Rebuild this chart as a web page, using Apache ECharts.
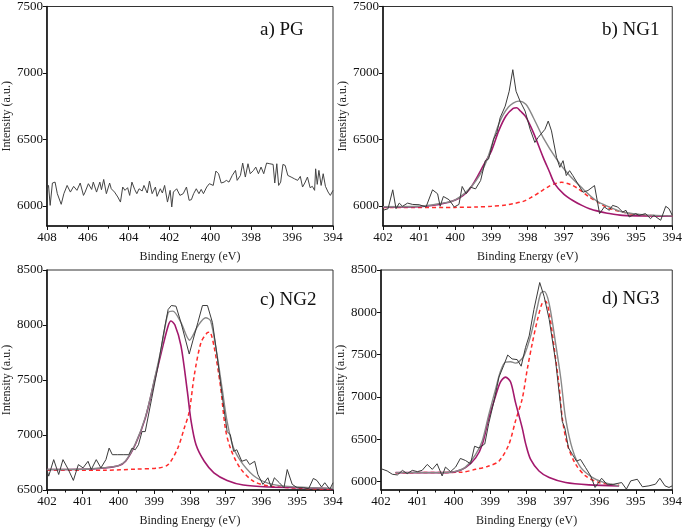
<!DOCTYPE html>
<html>
<head>
<meta charset="utf-8">
<script src="https://cdn.jsdelivr.net/npm/echarts@6/dist/echarts.min.js"></script>
<style>
html,body{margin:0;padding:0;background:#fff;}
#chart{width:685px;height:528px;}
</style>
</head>
<body>
<div id="chart"></div>
<script>
// panel titles
var titles = ['a) PG', 'b) NG1', 'c) NG2', 'd) NG3'];

// a) PG raw spectrum [eV, counts]
var pgRaw = [[408,6118],[407.92,6155],[407.84,6005],[407.73,6173],[407.6,6180],[407.49,6093],[407.41,6098],[407.3,6013],[407.17,6093],[407.01,6155],[406.85,6105],[406.69,6148],[406.53,6118],[406.37,6173],[406.21,6080],[406.13,6105],[405.97,6168],[405.81,6125],[405.73,6180],[405.57,6105],[405.41,6180],[405.33,6123],[405.22,6200],[405.09,6093],[404.93,6173],[404.85,6130],[404.69,6105],[404.53,6068],[404.4,6030],[404.29,6143],[404.18,6118],[404.05,6138],[403.95,6080],[403.84,6180],[403.7,6123],[403.6,6093],[403.49,6130],[403.34,6113],[403.25,6155],[403.09,6098],[402.98,6188],[402.85,6093],[402.69,6143],[402.61,6073],[402.45,6130],[402.35,6098],[402.24,6155],[402.1,6030],[401.97,6118],[401.89,5993],[401.81,6105],[401.65,6130],[401.49,6080],[401.33,6093],[401.17,6143],[401.04,6043],[400.93,6048],[400.82,6093],[400.69,6130],[400.56,6093],[400.45,6125],[400.34,6093],[400.18,6143],[400.05,6168],[399.97,6180],[399.86,6155],[399.73,6263],[399.6,6243],[399.47,6173],[399.33,6180],[399.22,6193],[399.09,6180],[398.93,6230],[398.77,6268],[398.69,6193],[398.53,6230],[398.42,6323],[398.29,6218],[398.16,6318],[398.05,6243],[397.89,6268],[397.78,6293],[397.65,6243],[397.52,6293],[397.39,6243],[397.25,6323],[397.09,6318],[396.93,6313],[396.85,6173],[396.75,6318],[396.66,6155],[396.56,6180],[396.45,6313],[396.34,6305],[396.21,6230],[396.05,6218],[395.89,6205],[395.73,6193],[395.6,6223],[395.49,6143],[395.38,6173],[395.25,6218],[395.12,6138],[395.01,6148],[394.9,6118],[394.85,6280],[394.77,6163],[394.69,6268],[394.58,6155],[394.48,6243],[394.37,6148],[394.24,6105],[394.13,6080],[394,6118]];

// b) NG1
var ng1Raw = [[402,5968],[401.86,5980],[401.73,6122],[401.64,5980],[401.55,6022],[401.46,5998],[401.32,6022],[401.18,6012],[401,6010],[400.81,5993],[400.63,6122],[400.49,6092],[400.42,5998],[400.33,6072],[400.17,6047],[400.03,5993],[399.9,6012],[399.81,6147],[399.7,6092],[399.58,6142],[399.44,6129],[399.3,6192],[399.17,6341],[399.08,6353],[398.94,6503],[398.85,6552],[398.76,6664],[398.62,6751],[398.51,6863],[398.41,7025],[398.32,6863],[398.21,6789],[398.07,6714],[397.93,6577],[397.8,6478],[397.71,6515],[397.52,6577],[397.43,6639],[397.34,6565],[397.2,6366],[397.11,6291],[397.02,6341],[396.93,6229],[396.84,6266],[396.75,6229],[396.61,6167],[396.47,6104],[396.33,6117],[396.15,6154],[396.01,5943],[395.88,5993],[395.74,5968],[395.65,6005],[395.51,5993],[395.37,5955],[395.28,5968],[395.19,5918],[395.01,5943],[394.92,5930],[394.74,5943],[394.6,5905],[394.51,5930],[394.32,5893],[394.18,5998],[394.09,5980],[394,5930]];
var ng1Env = [[402,5995],[401,5998],[400.5,6015],[400,6047],[399.53,6154],[399.17,6316],[398.8,6615],[398.53,6744],[398.25,6789],[398.05,6765],[397.84,6664],[397.57,6515],[397.2,6353],[396.84,6229],[396.47,6129],[396.11,6042],[395.74,5993],[395.38,5955],[394.9,5937],[394.46,5930],[394,5926]];
var ng1Pk1 = [[402,5992],[401,5995],[400.5,6010],[400,6045],[399.6,6129],[399.2,6316],[399,6415],[398.8,6565],[398.6,6677],[398.4,6734],[398.3,6739],[398.2,6714],[398.05,6670],[397.84,6552],[397.57,6366],[397.4,6260],[397.25,6167],[397,6090],[396.75,6042],[396.5,6005],[396.29,5980],[396,5958],[395.83,5948],[395.38,5930],[394.5,5925],[394,5924]];
var ng1Pk2 = [[402,5990],[400,5990],[399.4,5993],[399,5998],[398.6,6008],[398.4,6018],[398.12,6035],[397.9,6065],[397.66,6105],[397.4,6150],[397.2,6172],[397.06,6179],[396.8,6160],[396.6,6130],[396.29,6067],[396,6020],[395.83,5993],[395.6,5970],[395.38,5955],[395,5935],[394.5,5927],[394,5925]];

// c) NG2
var ng2Raw = [[402,6686],[401.95,6626],[401.81,6776],[401.67,6641],[401.55,6776],[401.4,6686],[401.26,6587],[401.12,6731],[400.99,6701],[400.85,6761],[400.76,6686],[400.62,6776],[400.49,6701],[400.35,6776],[400.26,6881],[400.17,6821],[400.03,6821],[399.85,6821],[399.71,6821],[399.62,6881],[399.53,6866],[399.44,6911],[399.34,7031],[399.25,7031],[399.07,7331],[398.89,7631],[398.75,7901],[398.61,8141],[398.52,8177],[398.39,8171],[398.25,8021],[398.02,7736],[397.92,7856],[397.78,8021],[397.65,8177],[397.51,8177],[397.37,8021],[397.24,7721],[397.1,7361],[396.96,7031],[396.87,7001],[396.78,6851],[396.69,6866],[396.55,6761],[396.42,6776],[396.33,6731],[396.19,6761],[396.1,6641],[395.96,6551],[395.82,6611],[395.73,6527],[395.64,6611],[395.5,6566],[395.37,6521],[395.28,6686],[395.14,6551],[395,6521],[394.82,6521],[394.68,6512],[394.55,6605],[394.45,6587],[394.32,6527],[394.23,6566],[394.09,6506],[394,6566]];
var ng2Env = [[402,6686],[401,6688],[400.4,6702],[400,6722],[399.8,6765],[399.53,6918],[399.25,7160],[398.98,7525],[398.8,7790],[398.61,8111],[398.48,8126],[398.25,8021],[398.01,7862],[397.9,7915],[397.78,7991],[397.56,8066],[397.42,8036],[397.24,7721],[397.1,7421],[396.96,7121],[396.78,6881],[396.51,6731],[396.14,6611],[395.69,6551],[395.05,6527],[394,6515]];
var ng2Pk1 = [[402,6686],[401,6688],[400.4,6700],[400,6720],[399.8,6761],[399.53,6911],[399.25,7151],[398.98,7511],[398.8,7751],[398.61,7991],[398.53,8036],[398.42,8000],[398.25,7811],[398.07,7390],[397.97,7130],[397.83,6911],[397.6,6761],[397.33,6656],[396.96,6587],[396.51,6545],[395.78,6527],[394.87,6521],[394,6512]];
var ng2Pk2 = [[402,6680],[400.4,6680],[399.5,6690],[398.89,6700],[398.61,6731],[398.34,6881],[398.16,7061],[398.02,7211],[397.88,7541],[397.69,7841],[397.51,7931],[397.45,7935],[397.33,7811],[397.15,7451],[397.01,7061],[396.87,6881],[396.6,6701],[396.23,6581],[395.78,6536],[394.9,6515],[394,6506]];

// d) NG3
var ng3Raw = [[402,6152],[401.83,6125],[401.69,6086],[401.55,6078],[401.41,6132],[401.28,6093],[401.14,6132],[401,6117],[400.87,6132],[400.73,6202],[400.59,6144],[400.46,6210],[400.32,6066],[400.23,6171],[400.09,6117],[399.95,6171],[399.82,6273],[399.68,6249],[399.54,6210],[399.43,6417],[399.31,6397],[399.15,6444],[399.04,6689],[398.9,6942],[398.76,7234],[398.63,7371],[398.52,7495],[398.4,7449],[398.26,7441],[398.15,7363],[398.03,7585],[397.93,7721],[397.8,8033],[397.64,8352],[397.52,8188],[397.38,7916],[397.2,7410],[397.02,6709],[396.95,6631],[396.85,6397],[396.74,6319],[396.63,6241],[396.52,6261],[396.38,6164],[396.24,6066],[396.12,5930],[395.94,6039],[395.78,5961],[395.6,5969],[395.39,5988],[395.26,5910],[395.14,6008],[394.96,6027],[394.82,5938],[394.64,5949],[394.46,5969],[394.34,6039],[394.2,5949],[394.09,5930],[394,5949]];
var ng3Env = [[401.6,6105],[400.3,6106],[399.95,6120],[399.68,6170],[399.4,6320],[399.22,6480],[399.04,6790],[398.86,7080],[398.72,7300],[398.58,7410],[398.44,7415],[398.31,7400],[398.2,7420],[398.07,7488],[397.89,7721],[397.7,8072],[397.61,8227],[397.52,8247],[397.38,8100],[397.2,7620],[397.06,7215],[396.93,6750],[396.74,6380],[396.52,6170],[396.2,6050],[395.88,5990],[395.46,5949]];
var ng3Pk1 = [[401.6,6105],[400.32,6105],[399.95,6117],[399.68,6164],[399.4,6280],[399.22,6436],[399.04,6748],[398.86,7001],[398.72,7176],[398.58,7234],[398.44,7176],[398.31,6942],[398.12,6631],[398.02,6436],[397.89,6261],[397.66,6125],[397.38,6047],[396.93,5988],[396.29,5961],[395.46,5949]];
var ng3Pk2 = [[401.6,6105],[399.8,6110],[399.4,6144],[399.04,6183],[398.76,6241],[398.49,6436],[398.31,6709],[398.12,6980],[397.98,7332],[397.84,7643],[397.7,7916],[397.57,8111],[397.48,8130],[397.38,7994],[397.25,7604],[397.11,7137],[397.02,6748],[396.88,6436],[396.65,6202],[396.38,6066],[396.01,5988],[395.46,5955]];

// axis ranges and ticks
var xRanges = [[394,408,2],[394,402,1],[394,402,1],[394,402,1]];
var yRanges = [[5850,7500],[5850,7500],[6500,8500],[5900,8500]];
var yTicks = [[6000,6500,7000,7500],[6000,6500,7000,7500],[6500,7000,7500,8000,8500],[6000,6500,7000,7500,8000,8500]];

var serif = 'Liberation Serif';
var grids = [
  {left:41, top:4, width:292, height:222},
  {left:383, top:4, width:292, height:222},
  {left:41, top:270, width:292, height:222},
  {left:381, top:270, width:294, height:222}
];
var titlePos = [[260,21],[602,21],[260,291],[602,290]];

var option = {
  backgroundColor:'#fff',
  animation:false,
  textStyle:{fontFamily:serif},
  grid:[], xAxis:[], yAxis:[], series:[], graphic:[]
};

for(var i=0;i<4;i++){
  var g = grids[i];
  option.grid.push({left:g.left, top:g.top, width:g.width, height:g.height, show:true, borderColor:'#333', borderWidth:1, backgroundColor:'transparent'});
  option.xAxis.push({
    type:'value', gridIndex:i, inverse:true,
    min:xRanges[i][0], max:xRanges[i][1], interval:xRanges[i][2],
    axisLine:{onZero:false, lineStyle:{color:'#111', width:1.5}},
    axisTick:{length:4, lineStyle:{color:'#111'}},
    minorTick:{show:true, splitNumber:2, length:2.5, lineStyle:{color:'#111'}},
    splitLine:{show:false},
    axisLabel:{color:'#111', fontSize:13, fontFamily:serif, margin:5},
    name:'Binding Energy (eV)', nameLocation:'middle', nameGap:25,
    nameTextStyle:{color:'#222', fontSize:12, fontFamily:serif}
  });
  option.yAxis.push({
    type:'value', gridIndex:i,
    min:yRanges[i][0], max:yRanges[i][1],
    axisLine:{show:true, onZero:false, lineStyle:{color:'#111', width:1.5}},
    axisTick:{show:true, length:4, customValues:yTicks[i], lineStyle:{color:'#111'}},
    splitLine:{show:false},
    axisLabel:{color:'#111', fontSize:13, fontFamily:serif, margin:4, customValues:yTicks[i],
      formatter:function(v){ return String(v); }},
    name:'Intensity (a.u.)', nameLocation:'middle', nameGap:33,
    nameTextStyle:{color:'#222', fontSize:12, fontFamily:serif}
  });
  option.graphic.push({type:'text', left:titlePos[i][0], top:titlePos[i][1],
    style:{text:titles[i], font:'19px ' + serif, fill:'#111'}});
}

function raw(i, data, color){
  return {type:'line', xAxisIndex:i, yAxisIndex:i, data:data, symbol:'none',
    lineStyle:{color:color || '#3a3a3a', width:1}, z:3};
}
function fit(i, data, color, width, dashed){
  return {type:'line', xAxisIndex:i, yAxisIndex:i, data:data, symbol:'none', smooth:0.3,
    lineStyle:{color:color, width:width, type:dashed ? [4,3] : 'solid'}, z:2};
}

var envColor = '#888', pk1Color = '#a3196d', pk2Color = '#ff2b2b';
option.series.push(raw(0, pgRaw, '#444'));

option.series.push(fit(1, ng1Pk2, pk2Color, 1.5, true));
option.series.push(fit(1, ng1Pk1, pk1Color, 1.6, false));
option.series.push(fit(1, ng1Env, envColor, 1.4, false));
option.series.push(raw(1, ng1Raw));

option.series.push(fit(2, ng2Pk2, pk2Color, 1.5, true));
option.series.push(fit(2, ng2Pk1, pk1Color, 1.6, false));
option.series.push(fit(2, ng2Env, envColor, 1.4, false));
option.series.push(raw(2, ng2Raw));

option.series.push(fit(3, ng3Pk2, pk2Color, 1.5, true));
option.series.push(fit(3, ng3Pk1, pk1Color, 1.6, false));
option.series.push(fit(3, ng3Env, envColor, 1.4, false));
option.series.push(raw(3, ng3Raw));

var myChart = echarts.init(document.getElementById('chart'));
myChart.setOption(option);
</script>
</body>
</html>
